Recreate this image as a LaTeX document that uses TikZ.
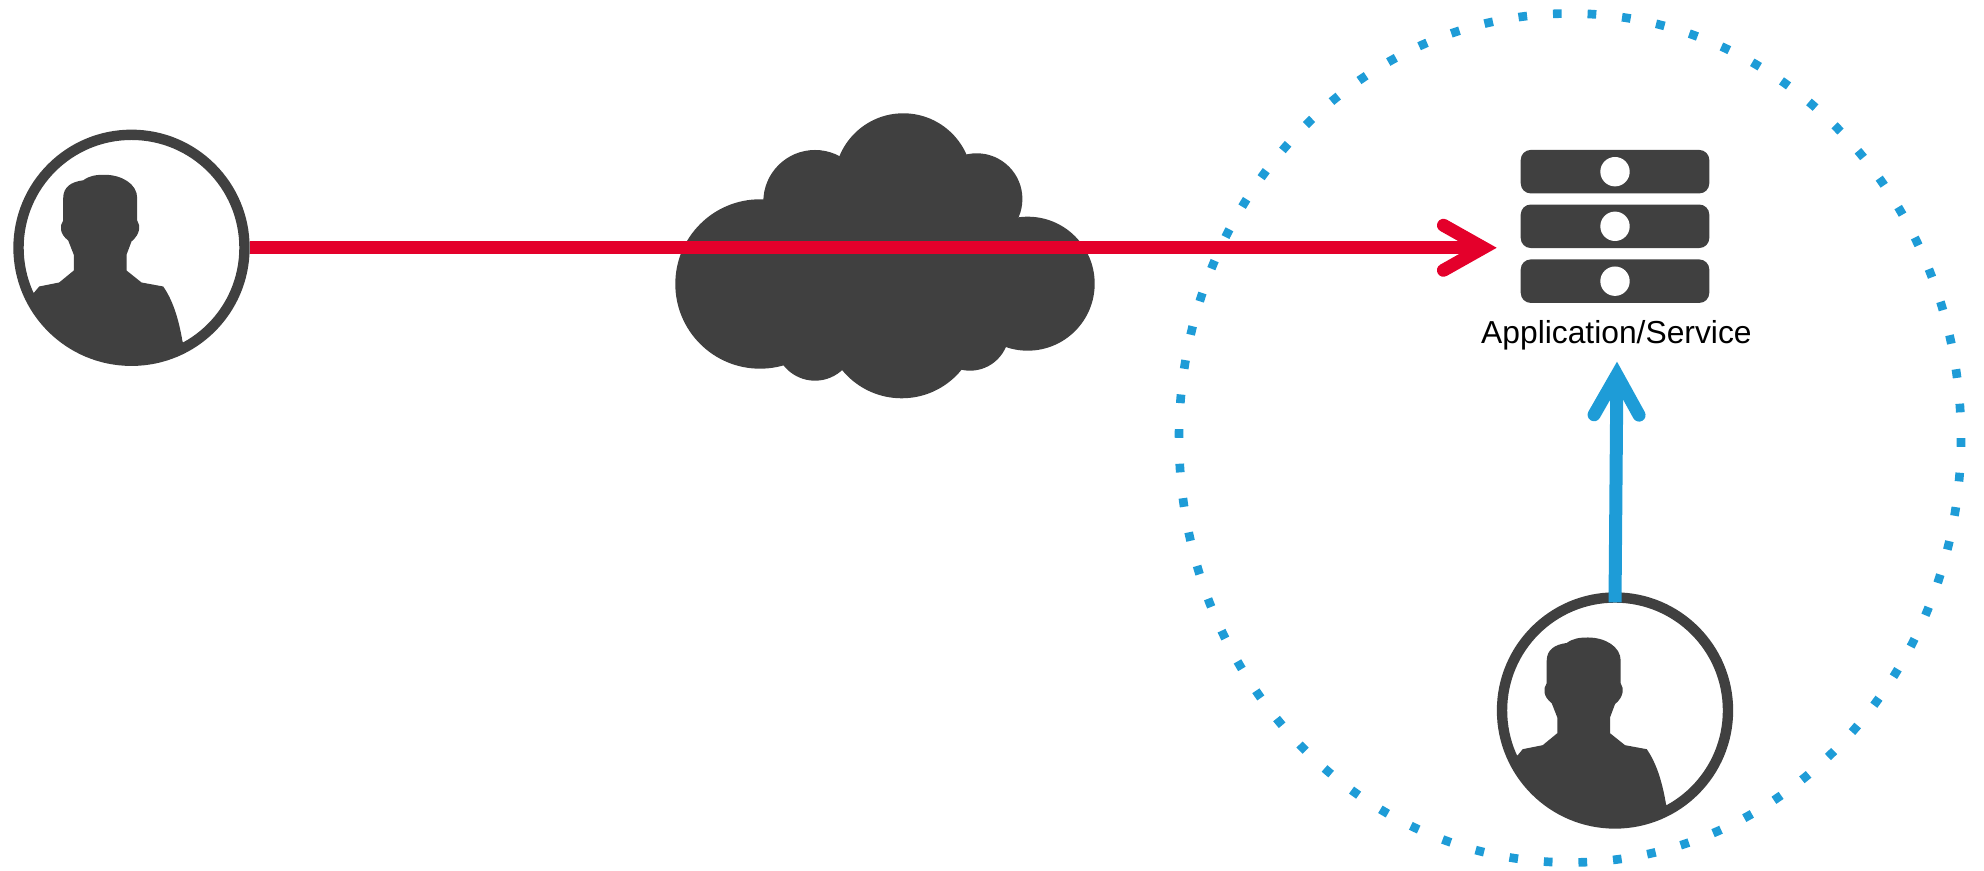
\documentclass[tikz,border=0pt]{standalone}
\usepackage{fontspec}
\setmainfont{Liberation Sans}
\usetikzlibrary{arrows.meta}
\definecolor{slate}{HTML}{404040}
\definecolor{flowred}{HTML}{E4002B}
\definecolor{flowblue}{HTML}{1E9CD7}
\tikzset{
	usercircle/.style={shape=circle, draw=slate, fill=white, line width=5.9pt, minimum size=4.52cm, inner sep=0pt},
	rack/.style={shape=rectangle, fill=slate, rounded corners=0.2cm, minimum width=3.772cm, minimum height=0.87cm, inner sep=0pt},
	lamp/.style={shape=circle, fill=white, minimum size=0.588cm, inner sep=0pt},
	flow/.style={line width=7.4pt, -{Straight Barb[length=0.8cm, width=0.9cm, line cap=round, line join=miter]}},
}
\begin{document}
\begin{tikzpicture}[x=0.02cm, y=0.02cm]
	\useasboundingbox (0,0) rectangle (1984,871);
	% Trust zone:
	\coordinate (zone) at (1570,433);
	\draw[flowblue, line width=4.93pt, dash pattern=on 0.174cm off 0.519cm, dash phase=0.18cm] (zone) ellipse [x radius=391, y radius=424.5];
	% Cloud, one puff after the other:
	\foreach \x/\y/\r in {760/587/84.7, 815/669.3/51.7, 903.3/688.7/69, 976.7/672/45.7, 1027.7/587.3/67, 901.7/549.7/77, 815/530.3/40, 970/539.3/39, 900/600/110}
		\fill[slate] (\x,\y) circle [radius=\r];
	% Users:
	\node[usercircle] (userA) at (131.5,623.2){};
	\node[usercircle] (userB) at (1615,160.5){};
	\foreach \who in {userA,userB}
		\fill[slate, shift={(\who.center)}] (-97.3,-44.7) -- (-92.3,-38.7) -- (-72.3,-34.7) -- (-57.7,-22.7) -- (-57.7,-7) -- (-63.3,7.3) .. controls (-72,14) and (-72,22) .. (-68.3,27.3) -- (-68.3,49.7) .. controls (-68.3,61) and (-60,66) .. (-48.3,67.5) .. controls (-42,72) and (-36,73) .. (-27,73) .. controls (-10,73) and (5.7,64) .. (5.7,49.7) -- (5.7,27.3) .. controls (9,22) and (9,14) .. (0,6.3) -- (-5,-7) -- (-5,-22.7) -- (10,-34.7) -- (31.7,-38.7) .. controls (41,-52) and (47,-70) .. (51,-93.7) -- (52.8,-97) arc [start angle=-61.4, end angle=-155.4, radius=110.5] -- cycle;
	% Application stack:
	\node[rack] (rackA) at (1615,699.3){};
	\node[rack] (rackB) at (1615,644.7){};
	\node[rack] (rackC) at (1615,589.8){};
	\node[lamp] (lampA) at (rackA.center){};
	\node[lamp] (lampB) at (rackB.center){};
	\node[lamp] (lampC) at (rackC.center){};
	\node[anchor=base, font=\fontsize{18.1pt}{20pt}\selectfont, inner sep=0pt] (applabel) at (1616.4,527.7){Application/Service};
	% Flows:
	\coordinate (redtip) at (1496.7,623.2);
	\coordinate (bluetip) at (1617,509.3);
	\draw[flow, flowred] (userA.east) -- (redtip);
	\draw[flow, flowblue] ([yshift=-0.2cm]userB.north) -- (bluetip);
\end{tikzpicture}
\end{document}
